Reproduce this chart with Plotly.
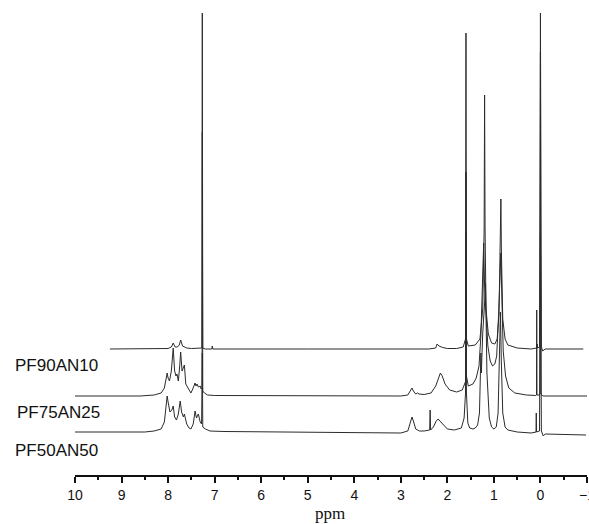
import plotly.graph_objects as go

# ---- data (ppm, intensity above each spectrum's own baseline) ----
labels = ["PF90AN10", "PF75AN25", "PF50AN50"]

ppm_pf90 = [9.25, 8.2, 8.0, 7.93, 7.89, 7.85, 7.80, 7.76, 7.73, 7.69, 7.6, 7.5, 7.3,
            7.275, 7.265, 7.255, 7.2, 7.06, 7.05, 7.04, 5.0, 2.4, 2.25, 2.22, 2.18, 2.1,
            2.0, 1.8, 1.66, 1.61, 1.60, 1.59, 1.55, 1.40, 1.30, 1.25, 1.24, 1.21, 1.20,
            1.19, 1.17, 1.12, 1.05, 0.98, 0.93, 0.89, 0.86, 0.85, 0.84, 0.81, 0.76, 0.7,
            0.5, 0.2, 0.08, 0.07, 0.06, 0.02, 0.0, -0.02, -0.05, -0.1, -0.92]
int_pf90 = [0, 0, 0.5, 2, 6, 2, 2, 4, 9, 3, 1, 0.5, 0.5,
            1, 336, 1, 0, 0, 3, 0, 0, 0, 1, 5, 3, 1.5,
            0.5, 0.5, 2, 10, 316, 10, 3, 4, 10, 30, 40, 120, 254,
            120, 40, 15, 6, 5, 10, 35, 100, 150, 100, 30, 10, 4,
            1, 0, 1, 5, 1, 2, 336, 2, -2, 0, 0]

ppm_pf75 = [10.0, 8.6, 8.3, 8.15, 8.08, 8.04, 8.02, 8.0, 7.97, 7.93, 7.89, 7.86, 7.83,
            7.81, 7.78, 7.75, 7.73, 7.70, 7.67, 7.65, 7.62, 7.55, 7.51, 7.47, 7.42, 7.40,
            7.38, 7.35, 7.31, 7.29, 7.27, 7.265, 7.255, 7.22, 7.15, 7.0, 3.0, 2.85, 2.79,
            2.76, 2.73, 2.68, 2.64, 2.61, 2.5, 2.35, 2.25, 2.18, 2.15, 2.11, 2.05, 1.95,
            1.8, 1.68, 1.62, 1.605, 1.60, 1.59, 1.55, 1.45, 1.38, 1.32, 1.28, 1.26, 1.24,
            1.22, 1.20, 1.17, 1.13, 1.08, 1.03, 0.98, 0.94, 0.90, 0.87, 0.85, 0.83, 0.80,
            0.75, 0.68, 0.55, 0.3, 0.1, 0.085, 0.08, 0.075, 0.03, 0.01, 0.0, -0.01, -0.05, -1.0]
int_pf75 = [0, 0, 1, 3, 8, 18, 23, 18, 15, 25, 48, 25, 20,
            22, 15, 30, 44, 25, 28, 31, 12, 6, 3, 7, 13, 10,
            12, 9, 10, 7, 8, 264, 5, 3, 1, 0.5, 0, 1, 5,
            8, 5, 2, 3, 2, 1.5, 3, 10, 20, 23, 20, 12, 6,
            4, 6, 15, 15, 224, 20, 10, 12, 18, 30, 60, 90, 120,
            153, 110, 80, 50, 35, 30, 32, 40, 80, 120, 143, 100, 45,
            20, 8, 3, 1, 0.5, 1, 86, 1, 1, 2, 344, 2, 0, 0]

ppm_pf50 = [10.0, 8.5, 8.3, 8.15, 8.08, 8.04, 8.02, 8.0, 7.96, 7.92, 7.89, 7.86, 7.82,
            7.78, 7.74, 7.71, 7.67, 7.65, 7.60, 7.55, 7.51, 7.46, 7.42, 7.39, 7.35, 7.31,
            7.28, 7.265, 7.255, 7.2, 7.1, 6.8, 3.0, 2.85, 2.79, 2.76, 2.73, 2.68, 2.64,
            2.60, 2.5, 2.38, 2.37, 2.36, 2.3, 2.24, 2.2, 2.16, 2.1, 2.0, 1.85, 1.70, 1.64,
            1.61, 1.60, 1.59, 1.56, 1.52, 1.45, 1.40, 1.35, 1.31, 1.29, 1.28, 1.27, 1.24,
            1.20, 1.18, 1.15, 1.10, 1.05, 1.0, 0.95, 0.91, 0.88, 0.86, 0.84, 0.81, 0.76,
            0.7, 0.5, 0.2, 0.095, 0.09, 0.085, 0.02, 0.0, -0.02, -0.06, -0.1, -0.98]
int_pf50 = [1, 1, 2, 4, 11, 29, 37, 31, 21, 23, 27, 16, 13,
            19, 32, 21, 16, 19, 9, 5, 4, 9, 22, 15, 19, 11,
            9, 80, 6, 4, 2, 1.5, 0, 2, 12, 16, 12, 4, 3,
            2, 2, 3, 23, 3, 6, 12, 14, 12, 8, 4, 3, 5, 15,
            40, 200, 40, 10, 5, 4, 5, 8, 20, 60, 80, 60, 100,
            130, 150, 60, 15, 6, 4, 6, 20, 80, 121, 70, 20, 6,
            3, 1, 0, 1, 20, 1, 2, 200, 2, -3, -1, -2]

stack_offsets = [126, 79, 42]

# ---- figure ----
fig = go.Figure()
series = [(ppm_pf90, int_pf90), (ppm_pf75, int_pf75), (ppm_pf50, int_pf50)]
for (xs, ys), off, name in zip(series, stack_offsets, labels):
    fig.add_trace(go.Scatter(
        x=xs, y=[v + off for v in ys], mode="lines", name=name,
        line=dict(color="#2b2b2b", width=1), showlegend=False, hoverinfo="skip"))

label_y = [110, 63, 25]
label_x = [-0.121, -0.117, -0.121]
for name, ly, lx in zip(labels, label_y, label_x):
    fig.add_annotation(x=lx, xref="paper", y=ly, yref="y", text=name, showarrow=False,
                       xanchor="left", yanchor="middle",
                       font=dict(family="Liberation Sans, Arial, sans-serif", size=17, color="#111"))

fig.add_annotation(x=4.52, xref="x", y=-0.083, yref="paper", text="ppm", showarrow=False,
                   xanchor="center", yanchor="middle",
                   font=dict(family="Liberation Serif, Times New Roman, serif", size=17, color="#111"))

fig.update_layout(
    width=589, height=524, autosize=False,
    margin=dict(l=75, r=2, t=12, b=49, autoexpand=False),
    paper_bgcolor="white", plot_bgcolor="white",
    xaxis=dict(range=[10, -1], dtick=1, tick0=0, showgrid=False, zeroline=False,
               automargin=False,
               showline=True, linecolor="#111", linewidth=1.5,
               ticks="outside", ticklen=6, tickwidth=1.5, tickcolor="#111",
               ticklabeloverflow="allow",
               minor=dict(dtick=0.5, ticks="outside", ticklen=3, tickwidth=1.5, tickcolor="#111", showgrid=False),
               tickfont=dict(family="Liberation Sans, Arial, sans-serif", size=14, color="#111")),
    yaxis=dict(range=[0, 463], visible=False, showgrid=False, zeroline=False, automargin=False),
)

# remove the page's default body margin so the 589x524 figure fills the window exactly
fig.write_html(
    "out.html",
    config={"responsive": False, "displayModeBar": False},
    post_script="document.body.style.margin='0';document.documentElement.style.overflow='hidden';",
)
